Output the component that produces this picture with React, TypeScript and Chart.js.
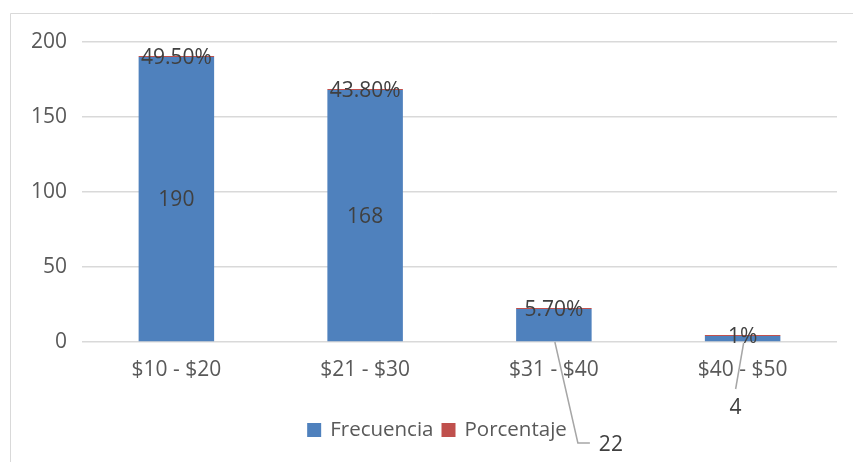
import React, { useEffect, useRef } from "react";
import { Chart, registerables } from "chart.js";

Chart.register(...registerables);

const categories = ["$10 - $20", "$21 - $30", "$31 - $40", "$40 - $50"];
const frecuencia = [190, 168, 22, 4];
const porcentaje = [49.5, 43.8, 5.7, 1];
const yTicks = [0, 50, 100, 150, 200];

const BLUE = "#4f81bd";
const RED = "#c0504d";
const TEXT = "#595959";
const LABEL = "#404040";
const GRID = "#d9d9d9";
const FONT = "'Open Sans', 'Noto Sans', sans-serif";

const fmtPct = (v: number) => (Number.isInteger(v) ? `${v}%` : `${v.toFixed(2)}%`);

// Small bars get their count label pulled out on a leader line.
const callouts: Record<number, { lx: number; ly: number; ex: number; ey: number; tx: number; ty: number; hook?: number }> = {
  2: { lx: 1, ly: 0, ex: 24, ey: 101, hook: 12, tx: 57, ty: 103 },
  3: { lx: 1, ly: 1, ex: -7, ey: 47, tx: -7, ty: 66 },
};

const decorPlugin = {
  id: "decor",
  beforeDraw(chart: any) {
    const ctx = chart.ctx;
    ctx.save();
    ctx.fillStyle = "#ffffff";
    ctx.fillRect(0, 0, chart.width, chart.height);
    ctx.strokeStyle = GRID;
    ctx.lineWidth = 1;
    ctx.beginPath();
    ctx.moveTo(10.5, chart.height);
    ctx.lineTo(10.5, 13.5);
    ctx.lineTo(chart.width, 13.5);
    ctx.stroke();
    ctx.restore();
  },
  afterDraw(chart: any) {
    const ctx = chart.ctx;
    const yScale = chart.scales.y;
    const base = yScale.getPixelForValue(0);
    const freqMeta = chart.getDatasetMeta(0);
    const pctMeta = chart.getDatasetMeta(1);
    ctx.save();
    ctx.font = `21px ${FONT}`;
    ctx.textAlign = "center";
    ctx.textBaseline = "middle";

    freqMeta.data.forEach((bar: any, i: number) => {
      const c = callouts[i];
      ctx.fillStyle = LABEL;
      if (c) {
        ctx.strokeStyle = "#a6a6a6";
        ctx.lineWidth = 1.5;
        ctx.beginPath();
        ctx.moveTo(bar.x + c.lx, base + c.ly);
        ctx.lineTo(bar.x + c.ex, base + c.ey);
        if (c.hook) ctx.lineTo(bar.x + c.ex + c.hook, base + c.ey);
        ctx.stroke();
        ctx.fillText(String(frecuencia[i]), bar.x + c.tx, base + c.ty);
      } else {
        ctx.fillText(String(frecuencia[i]), bar.x, (bar.y + base) / 2 + 1);
      }
    });

    pctMeta.data.forEach((bar: any, i: number) => {
      ctx.fillStyle = LABEL;
      ctx.fillText(fmtPct(porcentaje[i]), bar.x, bar.y + 2);
    });

    // legend
    const items = [
      { text: "Frecuencia", color: BLUE },
      { text: "Porcentaje", color: RED },
    ];
    ctx.font = `20.5px ${FONT}`;
    ctx.textAlign = "left";
    const box = 14;
    const gap = 9;
    const spacing = 8;
    const widths = items.map((it) => box + gap + ctx.measureText(it.text).width);
    const total = widths.reduce((a, b) => a + b, 0) + spacing * (items.length - 1);
    let x = 437 - total / 2;
    const cy = 430;
    items.forEach((it, k) => {
      ctx.fillStyle = it.color;
      ctx.fillRect(x, cy - box / 2, box, box);
      ctx.fillStyle = TEXT;
      ctx.fillText(it.text, x + box + gap, cy);
      x += widths[k] + spacing;
    });
    ctx.restore();
  },
};

export default function App() {
  const ref = useRef<HTMLCanvasElement | null>(null);
  useEffect(() => {
    if (!ref.current) return;
    const chart = new Chart(ref.current, {
      type: "bar",
      data: {
        labels: categories,
        datasets: [
          {
            label: "Frecuencia",
            data: frecuencia,
            backgroundColor: BLUE,
            barPercentage: 0.4,
            categoryPercentage: 1,
          },
          {
            label: "Porcentaje",
            data: porcentaje.map((p) => p / 100),
            backgroundColor: RED,
            barPercentage: 0.4,
            categoryPercentage: 1,
            minBarLength: 1,
          },
        ],
      },
      options: {
        responsive: false,
        animation: false,
        layout: { padding: { left: 10, right: 16, top: 42, bottom: 51 } },
        plugins: { legend: { display: false }, tooltip: { enabled: false } },
        scales: {
          x: {
            stacked: true,
            grid: { display: false, drawTicks: false },
            border: { display: false },
            ticks: { color: TEXT, font: { family: FONT, size: 21 }, padding: 15 },
            afterFit: (s: any) => {
              s.height = 69;
            },
          },
          y: {
            stacked: true,
            min: 0,
            max: 200,
            afterBuildTicks: (s: any) => {
              s.ticks = yTicks.map((v) => ({ value: v }));
            },
            grid: { color: GRID, lineWidth: 1.5, drawTicks: false },
            border: { display: false },
            ticks: { color: TEXT, font: { family: FONT, size: 21 }, padding: 15 },
            afterFit: (s: any) => {
              s.width = 72;
            },
          },
        },
      },
      plugins: [decorPlugin],
    });
    return () => chart.destroy();
  }, []);
  return (
    <canvas
      ref={ref}
      width={853}
      height={462}
      style={{ position: "fixed", left: 0, top: 0, display: "block" }}
    />
  );
}
